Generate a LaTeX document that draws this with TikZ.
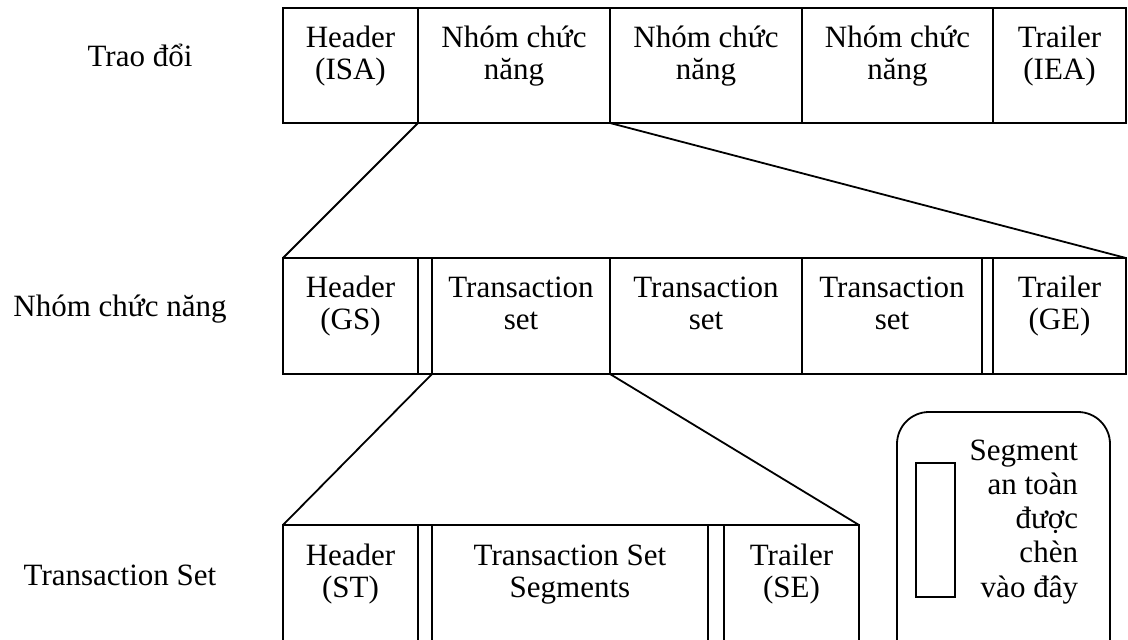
\documentclass[tikz,border=0pt]{standalone}
\usepackage{fontspec}
\setmainfont{Liberation Serif}
\begin{document}
\begin{tikzpicture}[x=1pt,y=-1pt,
  every node/.style={inner sep=0pt, outer sep=0pt},
  cell/.style={draw, line width=1.8pt, anchor=north west, minimum height=#1},
  cell/.default={115pt},
  txt/.style={anchor=base, align=center, font=\fontsize{31}{32}\selectfont},
  lbl/.style={anchor=base, font=\fontsize{31}{33}\selectfont},
  link/.style={line width=1.8pt}]
\clip (0,0) rectangle (1128,640);
\useasboundingbox (0,0) rectangle (1128,640);

% ---- left captions
\node[lbl] (l1) at (140,66) {Trao đổi};
\node[lbl] (l2) at (120,316) {Nhóm chức năng};
\node[lbl] (l3) at (120,585) {Transaction Set};

% ---- interchange row (text anchored at the baseline of its last line)
\node[cell, minimum width=135pt] (a1) at (283,8) {};
\node[cell, minimum width=192pt] (a2) at (418,8) {};
\node[cell, minimum width=192pt] (a3) at (610,8) {};
\node[cell, minimum width=191pt] (a4) at (802,8) {};
\node[cell, minimum width=133pt] (a5) at (993,8) {};
\node[txt] (a1t) at (350.5,79) {Header\\(ISA)};
\node[txt] (a2t) at (514,79) {Nhóm chức\\năng};
\node[txt] (a3t) at (706,79) {Nhóm chức\\năng};
\node[txt] (a4t) at (897.5,79) {Nhóm chức\\năng};
\node[txt] (a5t) at (1059.5,79) {Trailer\\(IEA)};

% ---- functional group row
\node[cell=116pt, minimum width=135pt] (b1) at (283,258) {};
\node[cell=116pt, minimum width=14pt]  (b1s) at (418,258) {};
\node[cell=116pt, minimum width=178pt] (b2) at (432,258) {};
\node[cell=116pt, minimum width=192pt] (b3) at (610,258) {};
\node[cell=116pt, minimum width=180pt] (b4) at (802,258) {};
\node[cell=116pt, minimum width=11pt]  (b4s) at (982,258) {};
\node[cell=116pt, minimum width=133pt] (b5) at (993,258) {};
\node[txt] (b1t) at (350.5,329) {Header\\(GS)};
\node[txt] (b2t) at (521,329) {Transaction\\set};
\node[txt] (b3t) at (706,329) {Transaction\\set};
\node[txt] (b4t) at (892,329) {Transaction\\set};
\node[txt] (b5t) at (1059.5,329) {Trailer\\(GE)};

% ---- transaction set row
\node[cell=140pt, minimum width=135pt] (c1) at (283,525) {};
\node[cell=140pt, minimum width=14pt]  (c1s) at (418,525) {};
\node[cell=140pt, minimum width=276pt] (c2) at (432,525) {};
\node[cell=140pt, minimum width=16pt]  (c2s) at (708,525) {};
\node[cell=140pt, minimum width=135pt] (c3) at (724,525) {};
\node[txt] (c1t) at (350.5,597) {Header\\(ST)};
\node[txt] (c2t) at (570,597) {Transaction Set\\Segments};
\node[txt] (c3t) at (791.5,597) {Trailer\\(SE)};

% ---- expansion lines
\draw[link] (a2.south west) -- (b1.north west);
\draw[link] (a2.south east) -- (b5.north east);
\draw[link] (b2.south west) -- (c1.north west);
\draw[link] (b2.south east) -- (c3.north east);

% ---- legend
\node[draw, line width=1.8pt, rounded corners=32pt, anchor=north west,
      minimum width=213pt, minimum height=270pt] (key) at (897,412) {};
\node[draw, line width=1.8pt, anchor=north west,
      minimum width=39pt, minimum height=134pt] (keybox) at (916,463) {};
\node[anchor=base east, align=right, font=\fontsize{31}{34.25}\selectfont]
      (keytxt) at (1078,597) {Segment\\an toàn\\được\\chèn\\vào đây};
\end{tikzpicture}
\end{document}
